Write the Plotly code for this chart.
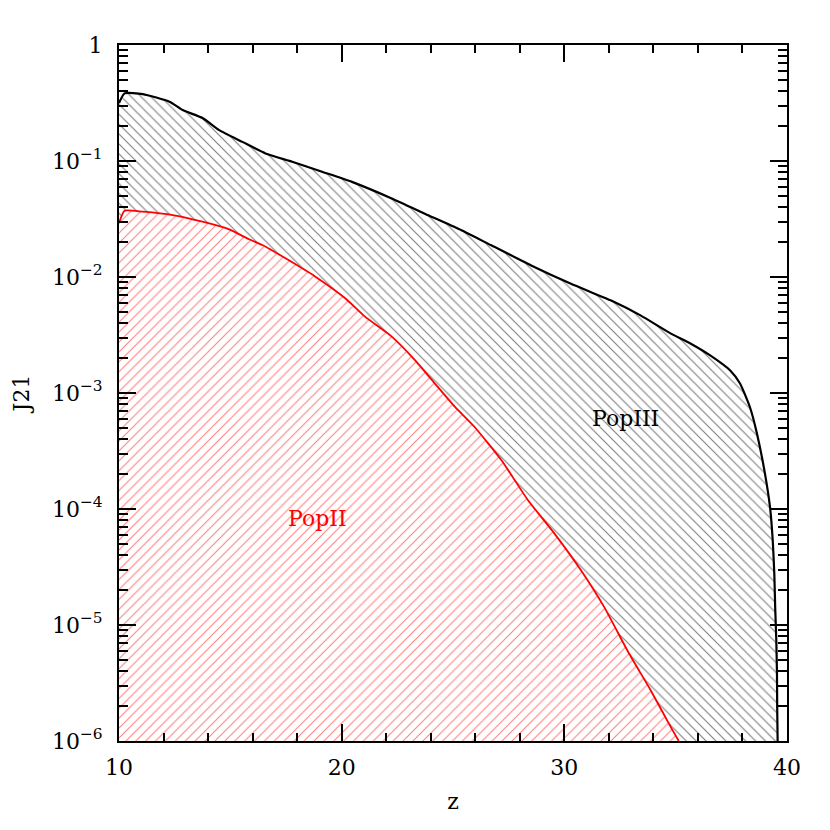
import plotly.graph_objects as go

# PopIII (black) curve: redshift z and J21
z_pop3 = [10.0, 10.25, 11.07, 12.27, 12.86, 13.75, 14.50, 15.54, 16.58, 17.78, 19.12,
          20.46, 22.25, 23.89, 25.38, 26.72, 28.51, 30.30, 32.08, 33.42, 34.77, 35.66,
          36.55, 37.45, 37.89, 38.34, 38.65, 39.01, 39.24, 39.36, 39.43, 39.47,
          39.52, 39.55, 39.56, 39.58]
logj_pop3 = [-0.500, -0.417, -0.423, -0.489, -0.561, -0.630, -0.734, -0.835, -0.935,
             -1.007, -1.093, -1.180, -1.323, -1.468, -1.597, -1.727, -1.900, -2.058,
             -2.201, -2.331, -2.486, -2.573, -2.676, -2.806, -2.918, -3.125, -3.349,
             -3.695, -3.989, -4.273, -4.558, -4.851, -5.136, -5.420, -5.713, -6.0]

# PopII (red) curve
z_pop2 = [10.0, 10.25, 11.07, 12.41, 13.75, 14.95, 15.84, 16.44, 17.48, 18.82, 20.16,
          21.05, 22.25, 23.29, 24.18, 25.08, 25.97, 27.17, 28.36, 29.55, 30.74, 31.78,
          32.90, 33.87, 34.77, 35.14]
logj_pop2 = [-1.534, -1.428, -1.437, -1.466, -1.523, -1.589, -1.675, -1.724, -1.839,
             -1.997, -2.183, -2.342, -2.514, -2.716, -2.917, -3.118, -3.293, -3.578,
             -3.922, -4.210, -4.526, -4.842, -5.244, -5.560, -5.876, -6.0]

j_pop3 = [10 ** v for v in logj_pop3]
j_pop2 = [10 ** v for v in logj_pop2]

y_floor = 1e-6
x_ticks = [10, 20, 30, 40]
y_ticks = [1, 1e-1, 1e-2, 1e-3, 1e-4, 1e-5, 1e-6]
y_ticktext = ["1", "10<sup>−1</sup>", "10<sup>−2</sup>", "10<sup>−3</sup>",
              "10<sup>−4</sup>", "10<sup>−5</sup>", "10<sup>−6</sup>"]

FONT = "DejaVu Serif"

fig = go.Figure()

# Filled hatched regions
fig.add_trace(go.Scatter(
    x=[z_pop3[0]] + z_pop3 + [z_pop3[-1]],
    y=[y_floor] + j_pop3 + [y_floor],
    fill="toself", mode="lines", line=dict(width=0),
    fillcolor="white",
    fillpattern=dict(shape="\\", fgcolor="#000000", bgcolor="white", size=7, solidity=0.16),
    hoverinfo="skip", showlegend=False))
fig.add_trace(go.Scatter(
    x=[z_pop2[0]] + z_pop2 + [z_pop2[-1]],
    y=[y_floor] + j_pop2 + [y_floor],
    fill="toself", mode="lines", line=dict(width=0),
    fillcolor="white",
    fillpattern=dict(shape="/", fgcolor="#ff0000", bgcolor="white", size=7, solidity=0.15),
    hoverinfo="skip", showlegend=False))

# Curves
fig.add_trace(go.Scatter(x=z_pop3, y=j_pop3, mode="lines",
                         line=dict(color="black", width=2.2, shape="spline", smoothing=0.5),
                         showlegend=False))
fig.add_trace(go.Scatter(x=z_pop2, y=j_pop2, mode="lines",
                         line=dict(color="red", width=1.8, shape="spline", smoothing=0.5),
                         showlegend=False))

fig.add_annotation(x=32.75, y=-3.216, text="PopIII", showarrow=False,
                   font=dict(family=FONT, size=22, color="black"))
fig.add_annotation(x=18.9, y=-4.078, text="PopII", showarrow=False,
                   font=dict(family=FONT, size=22, color="red"))

fig.update_layout(
    width=822, height=822,
    margin=dict(l=108, r=43, t=37, b=89),
    plot_bgcolor="white", paper_bgcolor="white",
    font=dict(family=FONT, size=22, color="black"),
    xaxis=dict(range=[10, 40], tickvals=x_ticks, ticks="inside", ticklen=17,
               tickwidth=2, tickcolor="black", showline=True, linecolor="black",
               linewidth=2, mirror="allticks", showgrid=False, zeroline=False,
               ticklabelstandoff=6,
               title=dict(text="z", font=dict(family=FONT, size=22), standoff=14),
               minor=dict(dtick=2, ticks="inside", ticklen=8, tickwidth=1.5,
                          tickcolor="black", showgrid=False)),
    yaxis=dict(type="log", range=[-6, 0], tickvals=y_ticks, ticktext=y_ticktext,
               ticks="inside", ticklen=17, tickwidth=2, tickcolor="black",
               showline=True, linecolor="black", linewidth=2, mirror="allticks",
               showgrid=False, zeroline=False, ticklabelstandoff=10,
               title=dict(text="J21", font=dict(family=FONT, size=22), standoff=16),
               minor=dict(dtick="D1", ticks="inside", ticklen=9, tickwidth=1.5,
                          tickcolor="black", showgrid=False)),
)

fig.write_html("out.html")
